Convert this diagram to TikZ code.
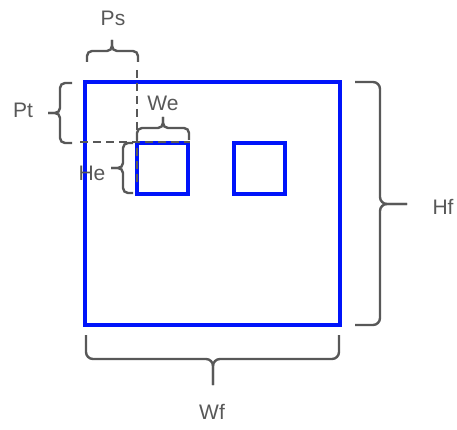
\documentclass[tikz,border=0pt]{standalone}
\usepackage{fontspec}
\setmainfont{Liberation Sans}
\usepackage{tikz}
\usetikzlibrary{positioning}
\definecolor{frameblue}{RGB}{0,20,250}
\definecolor{dimgray}{RGB}{88,88,88}

\begin{document}
\begin{tikzpicture}[x=1pt, y=-1pt,
  frame/.style={draw=frameblue, line width=3.4pt},
  bracket/.style={draw=dimgray, line width=2.4pt, rounded corners=5pt},
  guide/.style={draw=dimgray, line width=2.5pt, dash pattern=on 8pt off 5pt},
  dimlabel/.style={text=dimgray, font=\fontsize{21}{25}\selectfont, inner sep=0pt}]
\useasboundingbox (0,0) rectangle (457,430);
% filter and the two elements
\draw[frame] (85,82) rectangle (340,325);
\draw[frame] (137,143) rectangle (188,194);
\draw[frame] (234,143) rectangle (285,194);
% guide lines
\draw[guide] (137,70) -- (137,182);
\draw[guide] (80,142) -- (190,142);
% Ps
\draw[bracket] (87,62) -- (87,51) -- (112,51) -- (112,40);
\draw[bracket] (138,62) -- (138,51) -- (112,51) -- (112,40);
% Pt
\draw[bracket] (72,83) -- (60,83) -- (60,113) -- (48,113);
\draw[bracket] (72,143) -- (60,143) -- (60,113) -- (48,113);
% We
\draw[bracket] (137,140) -- (137,128) -- (163,128) -- (163,117);
\draw[bracket] (189,140) -- (189,128) -- (163,128) -- (163,117);
% He
\draw[bracket] (133,143) -- (123,143) -- (123,168) -- (111,168);
\draw[bracket] (133,193) -- (123,193) -- (123,168) -- (111,168);
% Hf
\draw[bracket, rounded corners=7pt] (355,82) -- (380,82) -- (380,204) -- (407,204);
\draw[bracket, rounded corners=7pt] (355,325) -- (380,325) -- (380,204) -- (407,204);
% Wf
\draw[bracket, rounded corners=7pt] (86,335) -- (86,359) -- (213,359) -- (213,385);
\draw[bracket, rounded corners=7pt] (339,335) -- (339,359) -- (213,359) -- (213,385);
% labels
\node[dimlabel] (ps) at (113,18) {Ps};
\node[dimlabel] (pt) at (23,110) {Pt};
\node[dimlabel] (we) at (163,103) {We};
\node[dimlabel] (he) at (92,173) {He};
\node[dimlabel] (hf) at (443,207) {Hf};
\node[dimlabel] (wf) at (212,412) {Wf};
\end{tikzpicture}
\end{document}
